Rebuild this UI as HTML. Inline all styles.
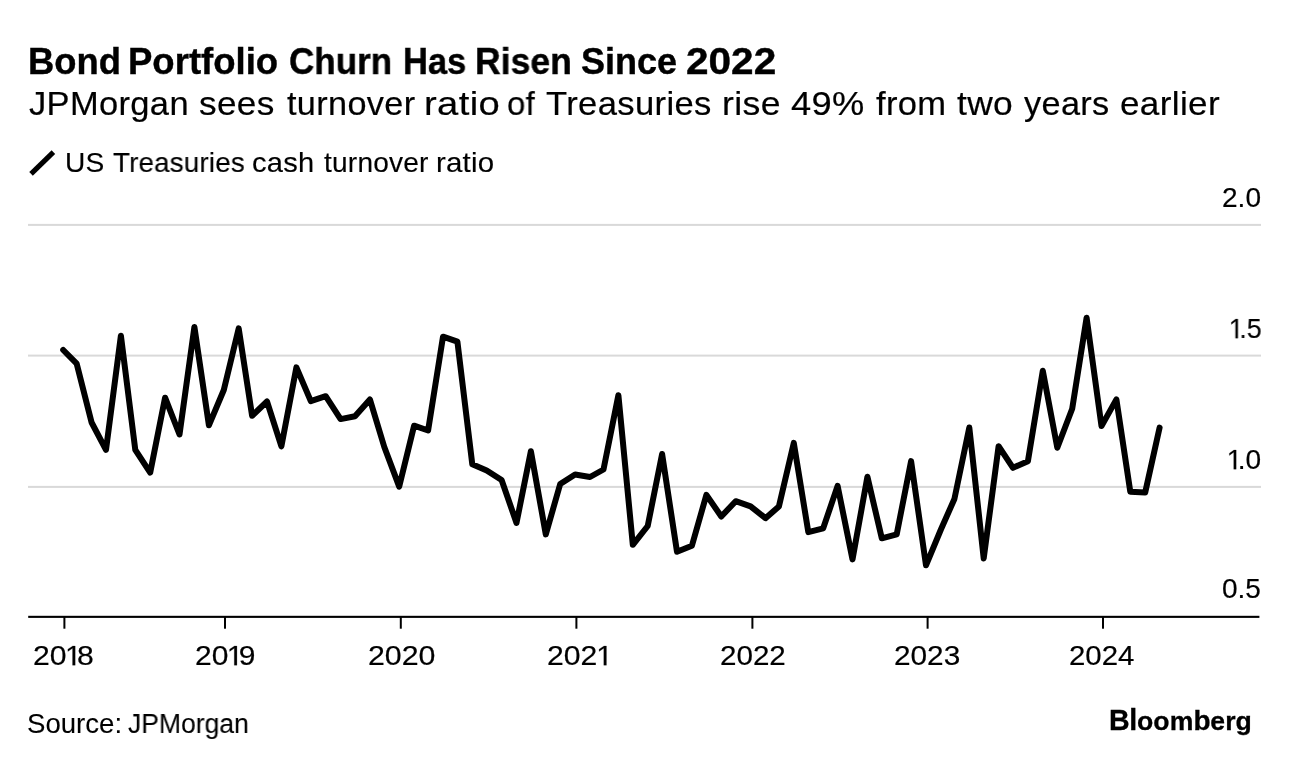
<!DOCTYPE html>
<html><head><meta charset="utf-8"><title>Bond Portfolio Churn Has Risen Since 2022</title>
<style>
html,body{margin:0;padding:0;background:#fff;}
body{width:1289px;height:766px;position:relative;overflow:hidden;font-family:"Liberation Sans",sans-serif;color:#000;}
.t{position:absolute;white-space:nowrap;line-height:normal;margin:0;padding:0;will-change:transform;}
.lab{-webkit-text-stroke:0.2px #000;}
</style></head><body>
<svg width="1289" height="766" viewBox="0 0 1289 766" style="position:absolute;left:0;top:0">
<rect x="28" y="223.9" width="1233" height="2" fill="#d9d9d9"/>
<rect x="28" y="354.6" width="1233" height="2" fill="#d9d9d9"/>
<rect x="28" y="485.9" width="1233" height="2" fill="#d9d9d9"/>
<rect x="28.2" y="615.8" width="1231.2" height="2.1" fill="#000"/>
<rect x="63.4" y="616" width="2" height="12.7" fill="#000"/>
<rect x="224.0" y="616" width="2" height="12.7" fill="#000"/>
<rect x="399.8" y="616" width="2" height="12.7" fill="#000"/>
<rect x="575.4" y="616" width="2" height="12.7" fill="#000"/>
<rect x="751.4" y="616" width="2" height="12.7" fill="#000"/>
<rect x="926.6" y="616" width="2" height="12.7" fill="#000"/>
<rect x="1102.0" y="616" width="2" height="12.7" fill="#000"/>
<path d="M63.2 350.0 L76.7 363.7 L91.6 422.5 L106.0 449.8 L120.9 335.7 L135.3 449.8 L150.2 472.6 L165.1 397.7 L179.5 434.5 L194.4 327.0 L208.9 425.3 L223.8 390.0 L238.7 328.4 L252.1 415.8 L267.0 401.5 L281.4 446.3 L296.4 367.4 L310.8 401.1 L325.7 396.2 L340.6 419.1 L355.0 416.3 L369.9 399.4 L384.3 447.0 L399.2 486.6 L414.1 425.7 L428.1 430.5 L443.0 336.7 L457.4 341.7 L472.3 464.3 L486.7 470.5 L501.6 480.1 L516.5 522.9 L530.9 451.2 L545.8 534.4 L560.2 484.0 L575.1 474.5 L590.0 477.0 L603.5 469.5 L618.4 395.2 L632.8 544.8 L647.7 526.0 L662.1 454.0 L677.0 551.8 L691.9 545.8 L706.4 494.9 L721.3 516.5 L735.7 501.2 L750.6 506.3 L765.5 518.2 L778.9 506.5 L793.8 442.9 L808.3 532.1 L823.2 528.3 L837.6 485.9 L852.5 559.4 L867.4 476.8 L881.8 538.3 L896.7 534.3 L911.1 461.1 L926.0 565.3 L940.9 529.5 L954.4 499.0 L969.3 427.5 L983.7 558.4 L998.6 446.2 L1013.0 467.8 L1027.9 461.2 L1042.8 370.7 L1057.3 447.8 L1072.2 408.8 L1086.6 317.7 L1101.5 426.1 L1116.4 399.4 L1130.3 491.7 L1145.2 492.5 L1159.6 427.6" fill="none" stroke="#000" stroke-width="6" stroke-linejoin="round" stroke-linecap="round"/>
<path d="M31.05 173.85 L53.4 152.2" fill="none" stroke="#000" stroke-width="5.1" stroke-linecap="butt"/>
</svg>
<span class="t lab" style="left:1221.50px;top:181.76px;font-size:28px;transform-origin:left top;transform:scaleX(1.0011)">2.0</span>
<span class="t lab" style="left:1229.50px;top:312.66px;font-size:28px;transform-origin:left top;transform:scaleX(0.9581)"><svg width="9.803" height="19.264" viewBox="0 0 717 1409" style="display:inline-block;vertical-align:baseline;overflow:visible"><path d="M418 1409V172L100 399V229L433 0H599V1409Z" fill="#000" stroke="#000" stroke-width="15"/></svg>.5</span>
<span class="t lab" style="left:1227.80px;top:443.96px;font-size:28px;transform-origin:left top;transform:scaleX(1.0018)"><svg width="9.803" height="19.264" viewBox="0 0 717 1409" style="display:inline-block;vertical-align:baseline;overflow:visible"><path d="M418 1409V172L100 399V229L433 0H599V1409Z" fill="#000" stroke="#000" stroke-width="15"/></svg>.0</span>
<span class="t lab" style="left:1222.40px;top:573.26px;font-size:28px;transform-origin:left top;transform:scaleX(0.9997)">0.5</span>
<span class="t lab" style="left:32.90px;top:640.06px;font-size:28px;transform-origin:left top;transform:scaleX(1.0772)">20<svg width="9.803" height="19.264" viewBox="0 0 717 1409" style="display:inline-block;vertical-align:baseline;overflow:visible"><path d="M418 1409V172L100 399V229L433 0H599V1409Z" fill="#000" stroke="#000" stroke-width="15"/></svg>8</span>
<span class="t lab" style="left:194.80px;top:640.06px;font-size:28px;transform-origin:left top;transform:scaleX(1.0699)">20<svg width="9.803" height="19.264" viewBox="0 0 717 1409" style="display:inline-block;vertical-align:baseline;overflow:visible"><path d="M418 1409V172L100 399V229L433 0H599V1409Z" fill="#000" stroke="#000" stroke-width="15"/></svg>9</span>
<span class="t lab" style="left:367.50px;top:640.06px;font-size:28px;transform-origin:left top;transform:scaleX(1.0830)">2020</span>
<span class="t lab" style="left:546.90px;top:640.06px;font-size:28px;transform-origin:left top;transform:scaleX(1.0772)">202<svg width="9.803" height="19.264" viewBox="0 0 717 1409" style="display:inline-block;vertical-align:baseline;overflow:visible"><path d="M418 1409V172L100 399V229L433 0H599V1409Z" fill="#000" stroke="#000" stroke-width="15"/></svg></span>
<span class="t lab" style="left:719.90px;top:640.06px;font-size:28px;transform-origin:left top;transform:scaleX(1.0564)">2022</span>
<span class="t lab" style="left:894.40px;top:640.06px;font-size:28px;transform-origin:left top;transform:scaleX(1.0633)">2023</span>
<span class="t lab" style="left:1069.20px;top:640.06px;font-size:28px;transform-origin:left top;transform:scaleX(1.0500)">2024</span>
<span class="t bbg" style="left:1108.6px;top:704.12px;font-size:28.6px;font-weight:700;letter-spacing:-0.3px;-webkit-text-stroke:0.3px #000">Bl<span style="font-size:26.6px;letter-spacing:0.12px">oom</span><span style="font-size:28px;letter-spacing:-0.4px">b</span><span style="font-size:26.6px;letter-spacing:0.12px">erg</span></span>
<span class="t title" style="left:28.34px;top:40.62px;font-size:36px;font-weight:700;letter-spacing:0.00px;-webkit-text-stroke:0.4px #000;transform-origin:left top;transform:scaleX(1.0101)">Bond</span>
<span class="t title" style="left:127.68px;top:40.62px;font-size:36px;font-weight:700;letter-spacing:0.00px;-webkit-text-stroke:0.4px #000;transform-origin:left top;transform:scaleX(1.0146)">Portfolio</span>
<span class="t title" style="left:288.82px;top:40.62px;font-size:36px;font-weight:700;letter-spacing:0.00px;-webkit-text-stroke:0.4px #000;transform-origin:left top;transform:scaleX(0.9730)">Churn</span>
<span class="t title" style="left:402.84px;top:40.62px;font-size:36px;font-weight:700;letter-spacing:0.00px;-webkit-text-stroke:0.4px #000;transform-origin:left top;transform:scaleX(0.9576)">Has</span>
<span class="t title" style="left:474.84px;top:40.62px;font-size:36px;font-weight:700;letter-spacing:0.00px;-webkit-text-stroke:0.4px #000;transform-origin:left top;transform:scaleX(0.9884)">Risen</span>
<span class="t title" style="left:581.32px;top:40.62px;font-size:36px;font-weight:700;letter-spacing:0.00px;-webkit-text-stroke:0.4px #000;transform-origin:left top;transform:scaleX(0.9980)">Since</span>
<span class="t title" style="left:685.66px;top:40.62px;font-size:36px;font-weight:700;letter-spacing:0.00px;-webkit-text-stroke:0.4px #000;transform-origin:left top;transform:scaleX(1.1261)">2022</span>
<span class="t sub" style="left:29.22px;top:84.03px;font-size:34px;font-weight:400;letter-spacing:0.35px;-webkit-text-stroke:0.2px #000;transform-origin:left top;transform:scaleX(1.0137)">JPMorgan</span>
<span class="t sub" style="left:198.90px;top:84.03px;font-size:34px;font-weight:400;letter-spacing:0.35px;-webkit-text-stroke:0.2px #000;transform-origin:left top;transform:scaleX(1.0342)">sees</span>
<span class="t sub" style="left:286.64px;top:84.03px;font-size:34px;font-weight:400;letter-spacing:0.35px;-webkit-text-stroke:0.2px #000;transform-origin:left top;transform:scaleX(1.0070)">turnover</span>
<span class="t sub" style="left:423.84px;top:84.03px;font-size:34px;font-weight:400;letter-spacing:0.35px;-webkit-text-stroke:0.2px #000;transform-origin:left top;transform:scaleX(1.1229)">ratio</span>
<span class="t sub" style="left:506.82px;top:84.03px;font-size:34px;font-weight:400;letter-spacing:0.35px;-webkit-text-stroke:0.2px #000;transform-origin:left top;transform:scaleX(0.9668)">of</span>
<span class="t sub" style="left:546.24px;top:84.03px;font-size:34px;font-weight:400;letter-spacing:0.35px;-webkit-text-stroke:0.2px #000;transform-origin:left top;transform:scaleX(1.0176)">Treasuries</span>
<span class="t sub" style="left:721.84px;top:84.03px;font-size:34px;font-weight:400;letter-spacing:0.35px;-webkit-text-stroke:0.2px #000;transform-origin:left top;transform:scaleX(1.0466)">rise</span>
<span class="t sub" style="left:790.66px;top:84.03px;font-size:34px;font-weight:400;letter-spacing:0.35px;-webkit-text-stroke:0.2px #000;transform-origin:left top;transform:scaleX(1.0660)">49%</span>
<span class="t sub" style="left:875.80px;top:84.03px;font-size:34px;font-weight:400;letter-spacing:0.35px;-webkit-text-stroke:0.2px #000;transform-origin:left top;transform:scaleX(1.0156)">from</span>
<span class="t sub" style="left:957.30px;top:84.03px;font-size:34px;font-weight:400;letter-spacing:0.35px;-webkit-text-stroke:0.2px #000;transform-origin:left top;transform:scaleX(1.0396)">two</span>
<span class="t sub" style="left:1023.56px;top:84.03px;font-size:34px;font-weight:400;letter-spacing:0.35px;-webkit-text-stroke:0.2px #000;transform-origin:left top;transform:scaleX(1.0085)">years</span>
<span class="t sub" style="left:1119.50px;top:84.03px;font-size:34px;font-weight:400;letter-spacing:0.35px;-webkit-text-stroke:0.2px #000;transform-origin:left top;transform:scaleX(1.0314)">earlier</span>
<span class="t leg" style="left:65.42px;top:146.66px;font-size:28px;font-weight:400;letter-spacing:0.20px;-webkit-text-stroke:0.15px #000;transform-origin:left top;transform:scaleX(1.0048)">US</span>
<span class="t leg" style="left:112.56px;top:146.66px;font-size:28px;font-weight:400;letter-spacing:0.20px;-webkit-text-stroke:0.15px #000;transform-origin:left top;transform:scaleX(0.9903)">Treasuries</span>
<span class="t leg" style="left:252.24px;top:146.66px;font-size:28px;font-weight:400;letter-spacing:0.20px;-webkit-text-stroke:0.15px #000;transform-origin:left top;transform:scaleX(1.0390)">cash</span>
<span class="t leg" style="left:323.56px;top:146.66px;font-size:28px;font-weight:400;letter-spacing:0.20px;-webkit-text-stroke:0.15px #000;transform-origin:left top;transform:scaleX(1.0034)">turnover</span>
<span class="t leg" style="left:436.34px;top:146.66px;font-size:28px;font-weight:400;letter-spacing:0.20px;-webkit-text-stroke:0.15px #000;transform-origin:left top;transform:scaleX(1.0516)">ratio</span>
<span class="t src" style="left:27.08px;top:708.87px;font-size:27px;font-weight:400;letter-spacing:0.00px;-webkit-text-stroke:0.1px #000;transform-origin:left top;transform:scaleX(1.0217)">Source:</span>
<span class="t src" style="left:127.56px;top:708.87px;font-size:27px;font-weight:400;letter-spacing:0.00px;-webkit-text-stroke:0.1px #000;transform-origin:left top;transform:scaleX(0.9820)">JPMorgan</span>
</body></html>
